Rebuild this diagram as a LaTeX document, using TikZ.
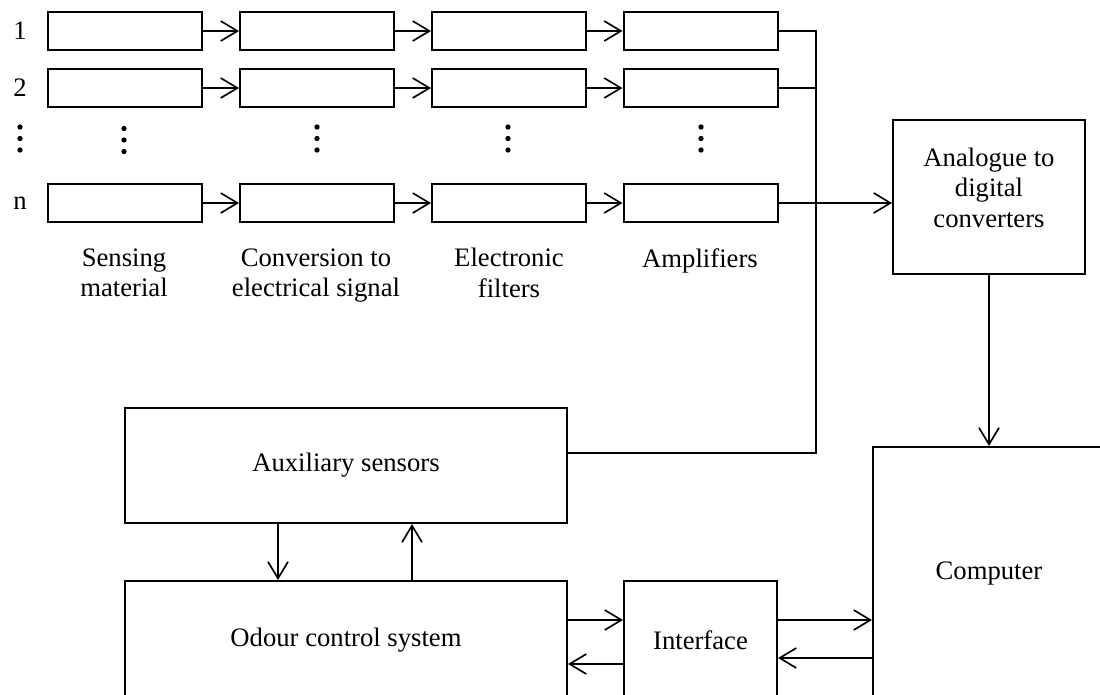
\documentclass[tikz,border=0pt]{standalone}
\usepackage{fontspec}
\setmainfont{Liberation Serif}
\usetikzlibrary{arrows.meta}
\newcommand{\pxu}{0.45pt}
\tikzset{
  every picture/.style={>={Straight Barb[length=7.5pt,width=9pt]}},
  blk/.style={draw, line width=0.9pt, inner sep=0pt, align=center, font=\fontsize{12}{13.7}\selectfont},
  chan/.style={blk, minimum width={154*\pxu}, minimum height={38*\pxu}},
  lbl/.style={inner sep=0pt, align=center, font=\fontsize{12}{13.7}\selectfont},
  wire/.style={line width=0.75pt},
}

\begin{document}
\begin{tikzpicture}[x=\pxu,y=-\pxu]
\useasboundingbox (0,0) rectangle (1100,695);
\clip (0,0) rectangle (1100,695);

% sensor channels
\foreach \r/\y in {1/31, 2/88, n/203}{
  \node[lbl] (num-\r) at (20,\y) {\r};
  \node[chan] (sens-\r) at (125,\y) {};
  \node[chan] (conv-\r) at (317,\y) {};
  \node[chan] (filt-\r) at (509,\y) {};
  \node[chan] (amp-\r) at (700.5,\y) {};
  \draw[wire,->] (sens-\r) -- (conv-\r);
  \draw[wire,->] (conv-\r) -- (filt-\r);
  \draw[wire,->] (filt-\r) -- (amp-\r);
}
\foreach \x/\d in {20/0, 124/1.5, 317/0, 508/0, 701/0}
  \foreach \y in {127,138.5,150}
    \fill (\x,\y+\d) circle[radius=1.2pt];

\node[lbl,anchor=north] (lbl-sens) at (124,248) {Sensing\\material};
\node[lbl,anchor=north] (lbl-conv) at (316,248) {Conversion to\\electrical signal};
\node[lbl,anchor=north] (lbl-filt) at (509,248) {Electronic\\filters};
\node[lbl,anchor=north] (lbl-amp) at (700,248) {Amplifiers};

% blocks
\node[blk, minimum width={192*\pxu}, minimum height={154*\pxu}] (adc) at (989,197) {};
\node[lbl] (adc-txt) at (989,187.5) {Analogue to\\digital\\converters};
\node[blk, minimum width={442*\pxu}, minimum height={115*\pxu}] (aux) at (346,465.5) {Auxiliary sensors};
\node[blk, minimum width={442*\pxu}, minimum height={118*\pxu}] (odour) at (346,640) {Odour control system};
\node[blk, minimum width={153*\pxu}, minimum height={118*\pxu}] (intf) at (700.5,640) {Interface};
\node[blk, minimum width={232*\pxu}, minimum height={253*\pxu}] (comp) at (989,573.5) {Computer};

% connections
\coordinate (bus) at (816,453);
\draw[wire] (amp-1.east) -| (bus) -- (aux.east |- bus);
\draw[wire] (amp-2.east) -- (amp-2.east -| bus);
\draw[wire,->] (amp-n.east) -- (amp-n.east -| adc.west);
\draw[wire,->] (adc.south) -- (adc.south |- comp.north);

\draw[wire,->] ([xshift={-68*\pxu}]aux.south) -- ([xshift={-68*\pxu}]odour.north);
\draw[wire,->] ([xshift={66*\pxu}]odour.north) -- ([xshift={66*\pxu}]aux.south);

\coordinate (fwd) at (0,620);
\coordinate (back) at (0,664);
\coordinate (back2) at (0,658);
\draw[wire,->] (odour.east |- fwd) -- (intf.west |- fwd);
\draw[wire,->] (intf.west |- back) -- (odour.east |- back);
\draw[wire,->] (intf.east |- fwd) -- (comp.west |- fwd);
\draw[wire,->] (comp.west |- back2) -- (intf.east |- back2);
\end{tikzpicture}
\end{document}
